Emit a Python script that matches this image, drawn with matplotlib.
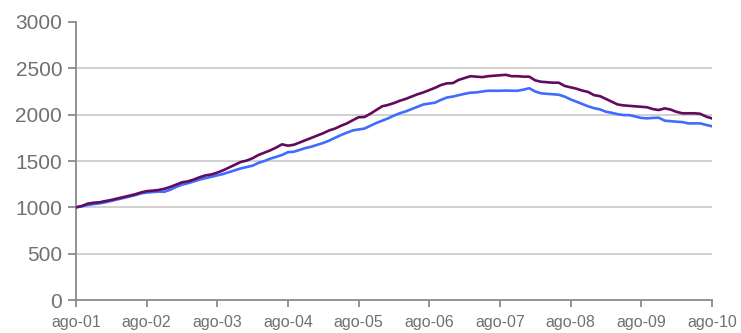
import numpy as np
import matplotlib
matplotlib.use("Agg")
import matplotlib.pyplot as plt

plt.rcParams["font.family"] = ["Liberation Sans", "DejaVu Sans"]

# monthly index values, Aug 2001 .. Aug 2010
tick_labels = ["ago-01", "ago-02", "ago-03", "ago-04", "ago-05",
               "ago-06", "ago-07", "ago-08", "ago-09", "ago-10"]

purple_series = [
    1000, 1015, 1040, 1050, 1055, 1068, 1080, 1095, 1110, 1125, 1140, 1160,
    1175, 1180, 1187, 1200, 1220, 1245, 1270, 1280, 1300, 1325, 1345, 1355,
    1375, 1400, 1430, 1460, 1490, 1505, 1530, 1565, 1590, 1615, 1645, 1680,
    1665, 1675, 1700, 1725, 1750, 1775, 1800, 1830, 1850, 1880, 1905, 1940,
    1972, 1975, 2010, 2050, 2090, 2105, 2125, 2150, 2170, 2195, 2220, 2240,
    2265, 2290, 2320, 2338, 2340, 2375, 2395, 2415, 2410, 2405, 2415, 2420,
    2425, 2430, 2415, 2415, 2410, 2410, 2370, 2355, 2350, 2345, 2345, 2310,
    2295, 2280, 2260, 2245, 2210, 2200, 2170, 2140, 2110, 2100, 2095, 2090,
    2085, 2080, 2060, 2050, 2068, 2055, 2030, 2015, 2015, 2015, 2010, 1980,
    1960,
]

blue_series = [
    1000, 1012, 1025, 1035, 1043, 1055, 1070, 1085, 1100, 1115, 1130, 1150,
    1160, 1165, 1170, 1168, 1190, 1220, 1245, 1260, 1280, 1300, 1315, 1330,
    1345, 1360, 1380, 1400, 1420, 1435, 1450, 1480, 1500, 1525, 1545, 1565,
    1595, 1600, 1620, 1640, 1655, 1675, 1695, 1720, 1750, 1780, 1805, 1830,
    1840, 1850, 1880, 1910, 1935, 1960, 1990, 2015, 2035, 2060, 2085, 2110,
    2120, 2130, 2160, 2185, 2195, 2210, 2225, 2237, 2240, 2250, 2258, 2258,
    2258, 2260, 2258, 2258, 2270, 2285, 2250, 2230, 2225, 2220, 2215, 2195,
    2165, 2140, 2115, 2090, 2070, 2057, 2032, 2020, 2005, 1996, 1995, 1980,
    1965, 1960, 1965, 1967, 1935, 1930, 1924, 1920, 1906, 1906, 1906, 1890,
    1875,
]

months = np.arange(len(purple_series))

fig = plt.figure(figsize=(7.41, 3.33), dpi=100)
ax = fig.add_axes([0.1026, 0.099, 0.858, 0.835])

ax.plot(months, blue_series, color="#3f6cff", lw=1.9, zorder=3)
ax.plot(months, purple_series, color="#640a5c", lw=1.9, zorder=4)

ax.set_xlim(0, months[-1])
ax.set_ylim(0, 3000)
ax.set_yticks(range(0, 3001, 500))
ax.set_xticks(range(0, len(months), 12), tick_labels)

for y in range(500, 3000, 500):
    ax.axhline(y, color="#c8c8c8", lw=1.2, zorder=1)

for side in ("top", "right"):
    ax.spines[side].set_visible(False)
for side in ("left", "bottom"):
    ax.spines[side].set_color("#8a8a8a")
    ax.spines[side].set_linewidth(1.3)

ax.tick_params(axis="y", direction="out", length=6, width=1.3, color="#8a8a8a",
               labelsize=15, labelcolor="#707070", pad=4)
ax.tick_params(axis="x", direction="out", length=5, width=1.3, color="#8a8a8a",
               labelsize=11.5, labelcolor="#707070", pad=6)

fig.savefig("out.png", dpi=100)
